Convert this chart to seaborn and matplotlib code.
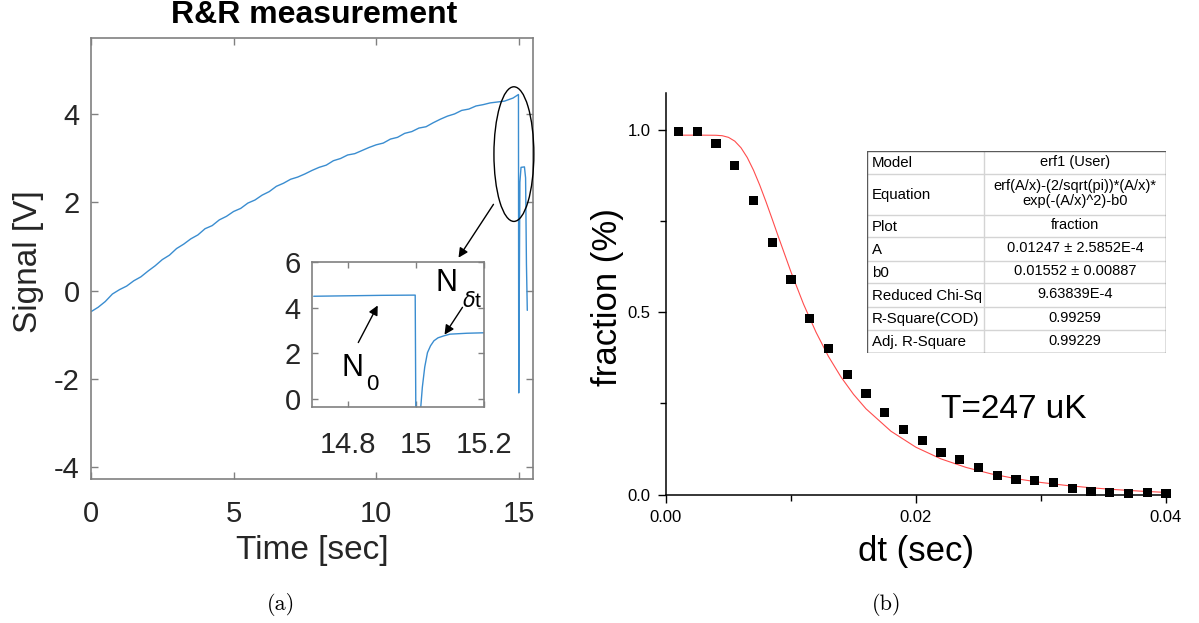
import matplotlib
matplotlib.use("Agg")
import matplotlib.pyplot as plt
import seaborn as sns
from matplotlib.patches import Ellipse, FancyArrowPatch
from matplotlib.ticker import MultipleLocator

# ---------------- data ----------------
# (a) R&R measurement: main trace
time_s = [0.0, 0.25, 0.5, 0.75, 1.0, 1.25, 1.5, 1.75, 2.0, 2.25, 2.5, 2.75, 3.0,
          3.25, 3.5, 3.75, 4.0, 4.25, 4.5, 4.75, 5.0, 5.25, 5.5, 5.75, 6.0, 6.25,
          6.5, 6.75, 7.0, 7.25, 7.5, 7.75, 8.0, 8.25, 8.5, 8.75, 9.0, 9.25, 9.5,
          9.75, 10.0, 10.25, 10.5, 10.75, 11.0, 11.25, 11.5, 11.75, 12.0, 12.25,
          12.5, 12.75, 13.0, 13.25, 13.5, 13.75, 14.0, 14.25, 14.5, 14.8, 14.99,
          15.0, 15.04, 15.08, 15.2, 15.24, 15.27, 15.3]
signal_v = [-0.48, -0.38, -0.25, -0.08, 0.02, 0.10, 0.22, 0.31, 0.44, 0.56, 0.70,
            0.80, 0.95, 1.05, 1.17, 1.26, 1.40, 1.47, 1.60, 1.68, 1.79, 1.86, 1.98,
            2.05, 2.16, 2.24, 2.36, 2.43, 2.52, 2.57, 2.64, 2.72, 2.79, 2.84, 2.94,
            2.99, 3.07, 3.10, 3.17, 3.24, 3.30, 3.34, 3.43, 3.47, 3.56, 3.60, 3.68,
            3.71, 3.80, 3.88, 3.95, 4.00, 4.08, 4.11, 4.18, 4.21, 4.25, 4.27, 4.29,
            4.36, 4.44, -2.32, 2.45, 2.79, 2.80, 2.55, 0.60, -0.45]

# (a) inset: zoom around the release
inset_time = [14.70, 14.80, 14.90, 14.998, 15.000, 15.013, 15.019, 15.026, 15.034,
              15.043, 15.053, 15.065, 15.083, 15.10, 15.15, 15.20]
inset_signal = [4.50, 4.52, 4.54, 4.55, -1.00, -0.60, 0.52, 1.40, 2.03, 2.33,
                2.55, 2.68, 2.77, 2.84, 2.88, 2.90]

# (b) release-recapture fraction vs dt
dt_s = [0.0010, 0.0025, 0.0040, 0.0055, 0.0070, 0.0085, 0.0100, 0.0115, 0.0130,
        0.0145, 0.0160, 0.0175, 0.0190, 0.0205, 0.0220, 0.0235, 0.0250, 0.0265,
        0.0280, 0.0295, 0.0310, 0.0325, 0.0340, 0.0355, 0.0370, 0.0385, 0.0400]
fraction = [0.995, 0.995, 0.963, 0.902, 0.805, 0.691, 0.588, 0.481, 0.399, 0.330,
            0.277, 0.226, 0.179, 0.147, 0.116, 0.095, 0.075, 0.051, 0.042, 0.039,
            0.032, 0.017, 0.009, 0.006, 0.004, 0.005, 0.002]

# (b) fitted curve (red line)
fit_dt = [0.0008, 0.002, 0.003, 0.004, 0.0045, 0.005, 0.0055, 0.006, 0.0065, 0.007,
          0.0075, 0.008, 0.0085, 0.009, 0.010, 0.011, 0.012, 0.013, 0.014, 0.015,
          0.016, 0.018, 0.020, 0.022, 0.024, 0.026, 0.028, 0.030, 0.032, 0.034,
          0.036, 0.038, 0.040]
fit_fraction = [0.9845, 0.9845, 0.9845, 0.9842, 0.9830, 0.9785, 0.9682, 0.9500,
                0.9233, 0.8886, 0.8476, 0.8021, 0.7541, 0.7053, 0.6097, 0.5219,
                0.4449, 0.3782, 0.3221, 0.2747, 0.2350, 0.1735, 0.1296, 0.0978,
                0.0745, 0.0569, 0.0436, 0.0332, 0.0252, 0.0187, 0.0136, 0.0094,
                0.0060]

# fit-result table
table_labels = ["Model", "Equation", "Plot", "A", "b0", "Reduced Chi-Sq",
                "R-Square(COD)", "Adj. R-Square"]
table_values = ["erf1 (User)", "erf(A/x)-(2/sqrt(pi))*(A/x)*\nexp(-(A/x)^2)-b0",
                "fraction", "0.01247 \u00b1 2.5852E-4", "0.01552 \u00b1 0.00887",
                "9.63839E-4", "0.99259", "0.99229"]

# ticks
left_xticks = [0, 5, 10, 15]
left_yticks = [-4, -2, 0, 2, 4]
inset_xticks = [14.8, 15.0, 15.2]
inset_xticklabels = ["14.8", "15", "15.2"]
inset_yticks = [0, 2, 4, 6]
right_xticks = [0.00, 0.02, 0.04]
right_xticklabels = ["0.00", "0.02", "0.04"]
right_yticks = [0.0, 0.5, 1.0]
right_yticklabels = ["0.0", "0.5", "1.0"]

# ---------------- style ----------------
sns.set_theme(style="white")
plt.rcParams['font.family'] = ['Liberation Sans', 'DejaVu Sans']
plt.rcParams['axes.unicode_minus'] = False

W, H = 1199, 623
fig = plt.figure(figsize=(W / 100, H / 100), dpi=100)
fig.patch.set_facecolor('white')


def rect(x0, y0, x1, y1):
    return [x0 / W, 1 - y1 / H, (x1 - x0) / W, (y1 - y0) / H]


def fp(x, y):
    return (x / W, 1 - y / H)


GRAY = '#808080'
TXT = '#262626'
BLUE = '#3a8dd0'

# ---------------- (a) main ----------------
ax = fig.add_axes(rect(91, 38, 533, 479))
sns.lineplot(x=time_s, y=signal_v, ax=ax, color=BLUE, lw=1.0, sort=False,
             estimator=None)
ax.set_xlim(0, 15.5)
ax.set_ylim(-4.27, 5.72)
ax.set_xticks(left_xticks)
ax.set_yticks(left_yticks)
ax.set_xlabel('')
ax.set_ylabel('')
for s in ax.spines.values():
    s.set_visible(True)
    s.set_color(GRAY)
    s.set_linewidth(1.2)
ax.tick_params(axis='both', direction='in', length=5, width=1, color=GRAY,
               labelcolor=TXT, labelsize=21, top=True, right=True,
               bottom=True, left=True)
ax.tick_params(axis='x', pad=15)
ax.tick_params(axis='y', pad=8)

ax.add_patch(Ellipse((14.83, 3.09), 1.4, 3.05, fill=False, ec='black', lw=1,
                     clip_on=False, zorder=5))

fig.text(*fp(314, 15), "R&R measurement", ha='center', va='center',
         fontsize=23, fontweight='bold', color='black')
fig.text(*fp(28, 262), "Signal [V]", ha='center', va='center', rotation=90,
         fontsize=24, color=TXT)
fig.text(*fp(312, 551), "Time [sec]", ha='center', va='center', fontsize=24,
         color=TXT)

# ---------------- (a) inset ----------------
axi = fig.add_axes(rect(312, 262, 484, 407))
sns.lineplot(x=inset_time, y=inset_signal, ax=axi, color=BLUE, lw=1.0,
             sort=False, estimator=None)
axi.set_facecolor('white')
axi.set_xlim(14.695, 15.2)
axi.set_ylim(-0.35, 6.0)
axi.set_xticks(inset_xticks)
axi.set_xticklabels(inset_xticklabels)
axi.set_yticks(inset_yticks)
axi.set_xlabel('')
axi.set_ylabel('')
for s in axi.spines.values():
    s.set_visible(True)
    s.set_color(GRAY)
    s.set_linewidth(1.2)
axi.tick_params(axis='both', direction='in', length=4, width=1, color=GRAY,
                labelcolor=TXT, labelsize=21, top=True, right=True,
                bottom=True, left=True)
axi.tick_params(axis='x', pad=17)
axi.tick_params(axis='y', pad=8)

# annotations
fig.text(*fp(352, 368), "N", ha='center', va='center', fontsize=22, color='black')
fig.text(*fp(372, 384), "0", ha='center', va='center', fontsize=16, color='black')
fig.text(*fp(447, 283), "N", ha='center', va='center', fontsize=22, color='black')
fig.text(*fp(472, 301), r"$\delta$t", ha='center', va='center', fontsize=15,
         color='black')


def arrow(p0, p1):
    fig.add_artist(FancyArrowPatch(fp(*p0), fp(*p1), transform=fig.transFigure,
                                   arrowstyle='-|>', mutation_scale=14,
                                   color='black', lw=1, zorder=10))


arrow((495, 202), (457, 260))
arrow((357, 345), (379, 303))
arrow((464, 305), (443, 337))

# ---------------- (b) ----------------
axr = fig.add_axes(rect(666, 93, 1166, 494.6))
sns.lineplot(x=fit_dt, y=fit_fraction, ax=axr, color='#ff4d4d', lw=0.8,
             sort=False, estimator=None, zorder=2)
sns.scatterplot(x=dt_s, y=fraction, ax=axr, marker='s', s=42, color='black',
                edgecolor='none', linewidth=0, clip_on=False, zorder=3)
axr.set_xlim(0, 0.04)
axr.set_ylim(0, 1.1)
axr.set_xticks(right_xticks)
axr.set_xticklabels(right_xticklabels)
axr.set_yticks(right_yticks)
axr.set_yticklabels(right_yticklabels)
axr.xaxis.set_minor_locator(MultipleLocator(0.01))
axr.yaxis.set_minor_locator(MultipleLocator(0.25))
axr.set_xlabel('')
axr.set_ylabel('')
axr.spines['top'].set_visible(False)
axr.spines['right'].set_visible(False)
for k in ('left', 'bottom'):
    axr.spines[k].set_visible(True)
    axr.spines[k].set_color('black')
    axr.spines[k].set_linewidth(1.1)
axr.tick_params(which='major', direction='out', length=6, width=1,
                color='black', labelcolor='black', labelsize=12, pad=5,
                bottom=True, left=True)
axr.tick_params(which='minor', direction='out', length=4, width=1,
                color='black', bottom=True, left=True)

fig.text(*fp(607, 297), "fraction (%)", ha='center', va='center', rotation=90,
         fontsize=25, color='black')
fig.text(*fp(916, 551), "dt (sec)", ha='center', va='center', fontsize=25,
         color='black')
fig.text(*fp(1014, 410), "T=247 uK", ha='center', va='center', fontsize=24,
         color='black')

# table
axt = fig.add_axes(rect(867, 151, 1166, 353))
axt.set_xlim(867, 1166)
axt.set_ylim(353, 151)
axt.axis('off')
rows = [151, 174, 215, 237, 261, 283, 307, 330, 353]
for yb in rows[1:-1]:
    axt.plot([867, 1166], [yb, yb], color='#d4d4d4', lw=1, solid_capstyle='butt')
axt.plot([984, 984], [151, 353], color='#d4d4d4', lw=1)
axt.plot([867, 1166, 1166, 867, 867], [151, 151, 353, 353, 151], color='#5a5a5a',
         lw=1)
for i, (lab, val) in enumerate(zip(table_labels, table_values)):
    yc = (rows[i] + rows[i + 1]) / 2
    axt.text(872, yc + 0.5, lab, ha='left', va='center', fontsize=10.8,
             color='black')
    axt.text(1075, yc - 1, val, ha='center', va='center', fontsize=10.5,
             color='black', linespacing=1.1)

# captions
fig.text(*fp(281, 604), "(a)", ha='center', va='center', fontsize=16,
         family='cmr10', color='black')
fig.text(*fp(887, 604), "(b)", ha='center', va='center', fontsize=16,
         family='cmr10', color='black')

fig.savefig("out.png", dpi=100, facecolor='white')
